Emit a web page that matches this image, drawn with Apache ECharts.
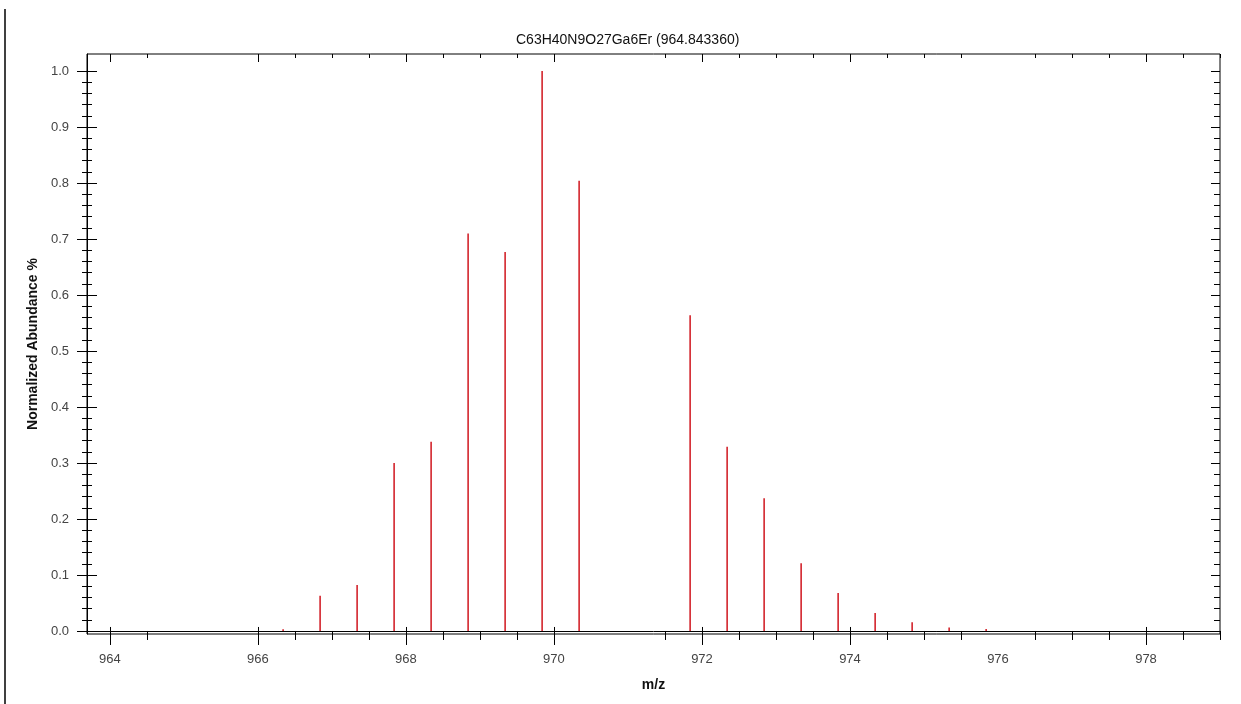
<!DOCTYPE html>
<html>
<head>
<meta charset="utf-8">
<title>Isotope pattern</title>
<script src="https://cdn.jsdelivr.net/npm/echarts@6/dist/echarts.min.js"></script>
<style>
  html, body { margin: 0; padding: 0; background: #fff; }
  #chart { width: 1241px; height: 704px; }
</style>
</head>
<body>
<div id="chart"></div>
<script>
// Isotope peaks: m/z positions and normalized abundance
const mz = [966.34, 966.84, 967.34, 967.84, 968.34, 968.84, 969.34, 969.84, 970.34,
            971.84, 972.34, 972.84, 973.34, 973.84, 974.34, 974.84, 975.34, 975.84];
const abundance = [0.003, 0.063, 0.082, 0.300, 0.338, 0.710, 0.677, 1.000, 0.804,
                   0.564, 0.329, 0.237, 0.121, 0.068, 0.032, 0.0155, 0.006, 0.0035];

// Axis labels and tick marks
const xLabelValues = [964, 966, 968, 970, 972, 974, 976, 978];
const xMajorTicks = [964, 966, 968, 970, 972, 974, 978];
const xMinorTicks = [964.5, 966.5, 967, 967.5, 968.5, 969, 969.5, 971.5, 972.5, 973,
                     973.5, 974.5, 975, 975.5, 976.5, 977, 977.5, 978.5, 979];
const yLabelValues = [0, 0.1, 0.2, 0.3, 0.4, 0.5, 0.6, 0.7, 0.8, 0.9, 1.0];
const yMinorTicks = [0.02, 0.04, 0.06, 0.08, 0.12, 0.14, 0.16, 0.18, 0.22, 0.24, 0.26, 0.28,
                     0.32, 0.34, 0.36, 0.38, 0.42, 0.44, 0.46, 0.48, 0.52, 0.54, 0.56, 0.58,
                     0.62, 0.64, 0.66, 0.68, 0.72, 0.74, 0.76, 0.78, 0.82, 0.84, 0.86, 0.88,
                     0.92, 0.94, 0.96, 0.98];

const titleText = 'C63H40N9O27Ga6Er (964.843360)';
const X_MIN = 963.69, X_MAX = 979.0;
const Y_MIN = -0.0054, Y_MAX = 1.0304;
const FONT = 'Liberation Sans, Arial, sans-serif';

const chart = echarts.init(document.getElementById('chart'));

// Build one axis layer: each layer carries a single set of ticks so that
// major/minor ticks can have different lengths and directions.
function xLayer(opts) {
  return Object.assign({
    type: 'value', min: X_MIN, max: X_MAX, gridIndex: 0,
    position: 'bottom',
    axisLine: { show: false, onZero: true, lineStyle: { color: '#000', width: 1 } },
    axisLabel: { show: false },
    splitLine: { show: false },
    axisTick: { show: false }
  }, opts);
}
function yLayer(opts) {
  return Object.assign({
    type: 'value', min: Y_MIN, max: Y_MAX, gridIndex: 0,
    position: 'left',
    axisLine: { show: false, onZero: false, lineStyle: { color: '#000', width: 1 } },
    axisLabel: { show: false },
    splitLine: { show: false },
    axisTick: { show: false }
  }, opts);
}
const tick = (values, length, inside) => ({
  show: true, customValues: values, length: length, inside: inside,
  lineStyle: { color: '#000', width: 1 }
});

const option = {
  backgroundColor: '#fff',
  animation: false,
  title: {
    text: titleText,
    left: 511, top: 28,
    textStyle: { fontFamily: FONT, fontSize: 14, fontWeight: 'normal', color: '#111' }
  },
  grid: {
    left: 87, top: 54, width: 1133, height: 580,
    show: true, borderColor: '#000', borderWidth: 1, backgroundColor: 'transparent'
  },
  xAxis: [
    xLayer({
      name: 'm/z', nameLocation: 'middle', nameGap: 44,
      nameTextStyle: { fontFamily: FONT, fontSize: 14, fontWeight: 'bold', color: '#111' },
      axisLine: { show: true, onZero: true, lineStyle: { color: '#000', width: 1 } },
      axisLabel: {
        show: true, customValues: xLabelValues, margin: 19,
        fontFamily: FONT, fontSize: 13, color: '#444',
        formatter: v => String(Math.round(v))
      },
      axisTick: tick(xMajorTicks, 14, false)
    }),
    xLayer({ axisTick: tick(xMajorTicks, 4, true) }),
    xLayer({ axisTick: tick(xMinorTicks, 9, false) }),
    xLayer({ position: 'top', axisLine: { show: false, onZero: false }, axisTick: tick(xMajorTicks, 8, true) }),
    xLayer({ position: 'top', axisLine: { show: false, onZero: false }, axisTick: tick(xMinorTicks, 4, true) })
  ],
  yAxis: [
    yLayer({
      name: 'Normalized Abundance %', nameLocation: 'middle', nameGap: 47,
      nameTextStyle: { fontFamily: FONT, fontSize: 14, fontWeight: 'bold', color: '#111' },
      axisLine: { show: true, onZero: false, lineStyle: { color: '#000', width: 1 } },
      axisLabel: {
        show: true, customValues: yLabelValues, margin: 18,
        fontFamily: FONT, fontSize: 13, color: '#444',
        formatter: v => v.toFixed(1)
      },
      axisTick: tick(yLabelValues, 10, false)
    }),
    yLayer({ axisTick: tick(yLabelValues, 10, true) }),
    yLayer({ axisTick: tick(yMinorTicks, 5, false) }),
    yLayer({ axisTick: tick(yMinorTicks, 5, true) }),
    yLayer({ position: 'right', axisTick: tick(yLabelValues, 9, true) }),
    yLayer({ position: 'right', axisTick: tick(yMinorTicks, 6, true) })
  ],
  series: [{
    type: 'bar',
    xAxisIndex: 0, yAxisIndex: 0,
    barWidth: 1.6,
    itemStyle: { color: '#d3242c' },
    data: mz.map((m, i) => [m, abundance[i]]),
    silent: true
  }],
  graphic: [{
    type: 'line',
    shape: { x1: 5, y1: 9, x2: 5, y2: 704 },
    style: { stroke: '#000', lineWidth: 1.5 },
    silent: true
  }]
};

chart.setOption(option);
</script>
</body>
</html>
